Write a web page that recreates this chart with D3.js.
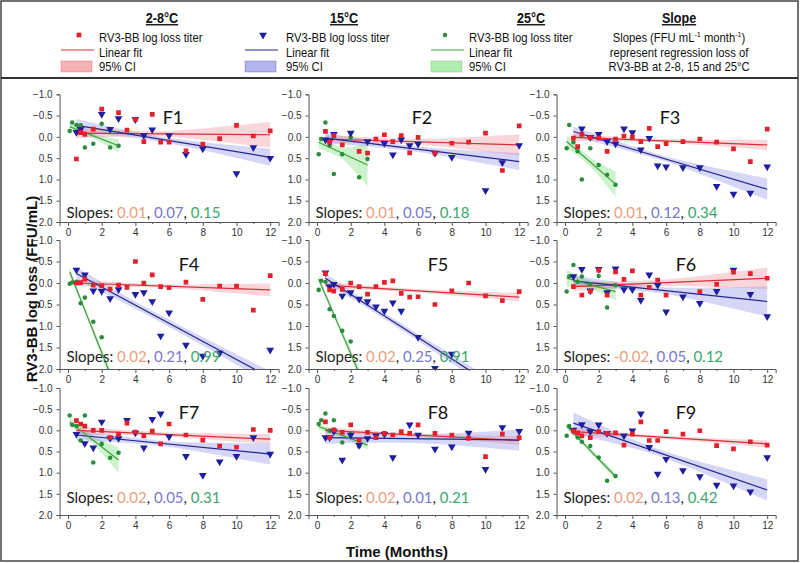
<!DOCTYPE html>
<html><head><meta charset="utf-8">
<script src="https://cdn.jsdelivr.net/npm/d3@7"></script>
<style>body{margin:0;background:#fff}svg{display:block}</style>
</head><body><svg id="c" width="800" height="563"></svg>
<script>
// ---------- DATA ----------
const months  = [0.5,0.75,1,1.5,2,2.5,3,3.5,4,4.5,5,5.5,6,7,8,9,10,11,12];
const monthsG = [0.1,0.25,0.5,0.75,1,1.5,2,2.5,3];
const panelNames = ["F1","F2","F3","F4","F5","F6","F7","F8","F9"];
const N = null;
// 2-8°C log loss (red squares)
const red = [
 [0.52,-0.1,-0.06,-0.18,-0.65,N,-0.57,-0.16,-0.41,0.11,-0.53,0.125,0.125,0.33,0.17,0.04,-0.27,-0.02,-0.14],
 [-0.13,0.125,-0.03,0.19,N,0.34,0.38,0.05,-0.05,0.11,-0.03,0.375,0.01,0.38,0.15,0.125,-0.09,0.79,-0.26],
 [0.03,0.23,-0.06,0.02,0.03,0.34,0.05,-0.02,0.0,0.11,-0.2,0.23,0.16,0.11,0.05,0.125,0.28,0.58,-0.18],
 [0.0,-0.01,-0.09,0.05,0.07,0.14,0.05,0.1,-0.5,0.0,-0.19,0.085,0.11,-0.02,0.38,0.07,0.07,0.63,-0.17],
 [-0.22,0.16,0.19,0.15,0.0,0.085,0.26,0.085,-0.015,-0.05,0.24,0.33,0.32,0.5,0.18,0.0,0.3,0.41,0.2],
 [0.085,N,0.28,0.19,-0.3,0.28,-0.26,-0.085,-0.28,0.28,0.1,-0.07,0.28,N,0.2,0.03,-0.25,-0.22,-0.11],
 [-0.23,-0.15,-0.1,0.0,0.0,0.17,0.09,-0.17,0.04,0.13,0.02,0.32,-0.15,0.11,0.23,0.37,0.4,-0.02,0.0],
 [-0.2,0.17,-0.01,0.05,-0.13,0.23,0.05,0.17,0.07,0.11,0.03,0.07,-0.13,0.07,0.11,0.19,0.62,0.09,0.17],
 [0.02,0.06,0.13,0.17,0.03,0.07,0.06,0.35,0.09,-0.2,0.24,0.24,0.03,0.09,0.01,0.36,0.44,0.27,0.35]
];
// 15°C log loss (blue triangles)
const blue = [
 [-0.11,-0.18,N,N,-0.53,-0.18,-0.43,N,-0.41,-0.03,-0.17,N,-0.03,0.41,0.28,N,0.86,0.25,0.5],
 [0.07,0.11,-0.06,N,-0.09,N,0.11,N,0.15,0.42,0.07,0.2,0.17,0.38,0.48,N,1.26,0.6,0.2],
 [N,N,-0.19,0.01,-0.06,0.11,0.16,-0.19,-0.1,0.3,0.03,0.68,0.7,0.72,0.72,1.16,1.34,1.32,0.7],
 [-0.3,N,-0.19,0.18,0.19,0.36,0.15,N,0.26,0.22,0.43,1.23,0.69,1.44,1.7,1.63,N,N,1.56],
 [-0.24,0.085,0.03,0.3,0.22,0.37,0.43,0.55,0.65,0.46,0.65,N,1.26,1.98,1.65,N,N,N,N],
 [-0.15,N,-0.32,0.18,-0.32,0.22,-0.33,0.15,0.15,0.4,-0.19,0.05,0.67,0.32,0.47,0.19,-0.3,0.26,0.78],
 [0.09,N,0.31,0.41,-0.2,0.19,0.19,-0.24,0.06,0.41,-0.26,-0.39,0.15,0.61,1.06,0.74,0.61,0.17,0.56],
 [0.17,0.17,0.03,0.7,0.11,0.35,0.19,0.13,0.09,0.64,N,-0.13,0.11,0.44,0.39,0.06,0.92,-0.07,0.02],
 [-0.01,N,-0.14,0.03,-0.13,0.07,N,0.13,0.01,-0.39,0.4,1.03,0.68,0.95,1.09,1.29,1.31,1.45,0.64]
];
// 25°C log loss (green dots)
const green = [
 [-0.14,-0.34,-0.28,-0.27,0.25,0.16,-0.31,0.25,0.21],
 [0.41,0.05,-0.34,0.2,0.87,0.41,0.01,0.95,0.52],
 [0.27,-0.28,0.125,0.34,1.0,0.27,0.66,0.89,1.125],
 [0.02,-0.01,-0.03,0.47,0.34,0.9,1.26,N,N],
 [0.16,-0.05,-0.03,0.61,0.77,1.11,1.36,N,N],
 [0.2,-0.15,-0.42,-0.03,-0.15,0.03,-0.16,0.57,0.05],
 [-0.35,-0.13,-0.1,0.24,-0.35,0.76,0.32,0.65,0.53],
 [-0.15,-0.24,-0.4,0.01,-0.24,0.29,0.09,0.38,N],
 [0.13,-0.1,N,0.17,0.27,0.37,0.64,1.19,1.08]
];
// linear fits: [xStart, yStart, xEnd, yEnd]
const fitRed = [[0.5,-0.09,12,-0.05],[0.5,0.05,12,0.19],[0.5,0.01,12,0.19],[0.5,0.0,12,0.16],[0.5,0.05,12,0.33],[0.5,0.085,12,-0.11],[0.5,0.0,12,0.21],[0.5,0.0,12,0.24],[0.5,0.03,12,0.32]];
const fitBlue = [[0.5,-0.27,12,0.48],[0.5,0.03,12,0.58],[0.5,-0.125,12,1.23],[0.5,-0.22,12,2.2],[0.5,-0.11,12,2.77],[0.5,-0.05,12,0.43],[0.5,0.11,12,0.56],[0.5,0.17,12,0.23],[0.5,-0.17,12,1.41]];
const fitGreen = [[0.1,-0.24,3,0.21],[0.1,0.125,3,0.66],[0.1,0.11,3,1.11],[0.1,-0.26,3,2.61],[0.1,-0.09,3,2.55],[0.1,-0.11,3,0.2],[0.1,-0.2,3,0.7],[0.1,-0.09,3,0.35],[0.1,-0.1,3,1.09]];
// 95% CI half widths: [start, narrowest, end]
const ciRed = [[0.12,0.06,0.3],[0.1,0.06,0.25],[0.08,0.04,0.12],[0.08,0.04,0.15],[0.08,0.04,0.1],[0.1,0.07,0.25],[0.1,0.05,0.12],[0.08,0.04,0.1],[0.1,0.04,0.08]];
const ciBlue = [[0.15,0.06,0.2],[0.12,0.06,0.2],[0.12,0.06,0.25],[0.15,0.08,0.15],[0.12,0.07,0.15],[0.12,0.07,0.35],[0.12,0.06,0.25],[0.15,0.1,0.25],[0.25,0.08,0.25]];
const ciGreen = [[0.1,0.06,0.15],[0.15,0.12,0.5],[0.15,0.1,0.3],[0.1,0.06,0.15],[0.1,0.06,0.15],[0.2,0.1,0.2],[0.1,0.1,0.3],[0.08,0.06,0.1],[0.06,0.05,0.08]];
// slope labels
const slopesRed   = ["0.01","0.01","0.01","0.02","0.02","-0.02","0.02","0.02","0.02"];
const slopesBlue  = ["0.07","0.05","0.12","0.21","0.25","0.05","0.05","0.01","0.13"];
const slopesGreen = ["0.15","0.18","0.34","0.99","0.91","0.12","0.31","0.21","0.42"];
const yTicks = [-1.0,-0.5,0.0,0.5,1.0,1.5,2.0];
const xTicks = [0,2,4,6,8,10,12];
const xMinor = [1,3,5,7,9,11];
const legendTitles = ["2-8°C","15°C","25°C","Slope"];
const legendItems = ["RV3-BB log loss titer","Linear fit","95% CI"];
const slopeNote2 = "represent regression loss of";
const slopeNote3 = "RV3-BB at 2-8, 15 and 25°C";
const yTitle = "RV3-BB log loss (FFU/mL)";
const xTitle = "Time (Months)";

// ---------- STYLE / LAYOUT ----------
const svg = d3.select("#c");
const colX0 = [68, 317, 565];
const rowTop = [94.3, 240, 388], rowBot = [222, 369, 515];
const slopeOff = [4, 7, 12];
const ppm = 16.85;
const S = [
 {name:"red", pt:"#E3202B", ln:"#D32F38", band:"rgba(235,120,130,0.30)", sym:"square", sl:"#E9A07E", lb:"#F6B3B6"},
 {name:"blue", pt:"#1E1E9E", ln:"#25258E", band:"rgba(120,120,225,0.30)", sym:"tri", sl:"#7878CF", lb:"#B4B4EE"},
 {name:"green", pt:"#2A8C3C", ln:"#3E9E3E", band:"rgba(110,220,110,0.35)", sym:"circle", sl:"#3BA56B", lb:"#B2EEB2"}
];
const seriesData = [red, blue, green];
const seriesFit = [fitRed, fitBlue, fitGreen];
const seriesCI = [ciRed, ciBlue, ciGreen];
const seriesT = [months, months, monthsG];

function marker(sel, sym, color){
  if(sym==="square") sel.append("path").attr("d", d3.symbol(d3.symbolSquare, 22)()).attr("fill", color);
  else if(sym==="tri") sel.append("path").attr("d", d3.symbol(d3.symbolTriangle, 26)()).attr("transform","rotate(180)").attr("fill", color);
  else sel.append("path").attr("d", d3.symbol(d3.symbolCircle, 16)()).attr("fill", color);
}

const defs = svg.append("defs");

panelNames.forEach((name, i) => {
  const r = Math.floor(i/3), c = i % 3;
  const x = d3.scaleLinear().domain([-0.5, 12.5]).range([colX0[c] - 0.5*ppm, colX0[c] + 12.5*ppm]);
  const y = d3.scaleLinear().domain([-1, 2]).range([rowTop[r], rowBot[r]]);
  const g = svg.append("g");
  defs.append("clipPath").attr("id","clip"+i).append("rect")
    .attr("x", x.range()[0]).attr("y", y.range()[0])
    .attr("width", x.range()[1]-x.range()[0]).attr("height", y.range()[1]-y.range()[0]);
  const plot = g.append("g").attr("clip-path", `url(#clip${i})`);

  // bands
  [2,1,0].forEach(s => {
    const [x0,y0,x1,y1] = seriesFit[s][i];
    const [hs,hm,he] = seriesCI[s][i];
    const tv = seriesT[s].filter((t,k) => seriesData[s][i][k] !== null);
    const xm = d3.mean(tv);
    const lineY = xx => y0 + (y1-y0)*(xx-x0)/(x1-x0);
    const hw = xx => xx < xm
      ? Math.sqrt(hm*hm + (hs*hs-hm*hm)*Math.pow((xx-xm)/(x0-xm),2))
      : Math.sqrt(hm*hm + (he*he-hm*hm)*Math.pow((xx-xm)/(x1-xm),2));
    const xs = d3.range(0, 61).map(k => x0 + (x1-x0)*k/60);
    plot.append("path").datum(xs)
      .attr("d", d3.area().x(d=>x(d)).y0(d=>y(lineY(d)-hw(d))).y1(d=>y(lineY(d)+hw(d))))
      .attr("fill", S[s].band);
  });
  // fit lines
  [0,1,2].forEach(s => {
    const [x0,y0,x1,y1] = seriesFit[s][i];
    plot.append("line").attr("x1",x(x0)).attr("y1",y(y0)).attr("x2",x(x1)).attr("y2",y(y1))
      .attr("stroke", S[s].ln).attr("stroke-width",1.2);
  });
  // points
  [2,1,0].forEach(s => {
    seriesData[s][i].forEach((v,k) => {
      if (v === null) return;
      const t = seriesT[s][k];
      const m = plot.append("g").attr("transform",`translate(${x(t)},${y(v)})`);
      marker(m, S[s].sym, S[s].pt);
    });
  });

  // axes
  g.append("g").attr("transform",`translate(${x.range()[0]},0)`)
    .call(d3.axisLeft(y).tickValues(yTicks).tickFormat(d3.format(".1f")).tickSize(3).tickPadding(4));
  g.append("g").attr("transform",`translate(0,${y.range()[1]})`)
    .call(d3.axisBottom(x).tickValues(xTicks).tickSize(4).tickPadding(3));
  g.append("g").attr("transform",`translate(0,${y.range()[1]})`)
    .call(d3.axisBottom(x).tickValues(xMinor).tickSize(2).tickFormat(""))
    .select(".domain").remove();
  g.selectAll(".domain, .tick line").attr("stroke","#555");
  g.selectAll(".tick text").attr("fill","#333").style("font-family","'Liberation Sans', Arial, sans-serif").style("font-size","10px");

  // panel label
  const lx = r === 0 ? colX0[c] + 105 : colX0[c] + 121;
  const ly = r === 0 ? rowTop[r] + 23 : rowTop[r] + 24;
  g.append("text").attr("x", lx).attr("y", ly).attr("text-anchor","middle").attr("dominant-baseline","central")
    .style("font-family","Lato, 'Open Sans', sans-serif").style("font-size","18px").attr("fill","#111").text(name);

  // slopes
  const st = g.append("text").attr("x", x.range()[0] + 7).attr("y", rowBot[r] - slopeOff[r])
    .style("font-family","Lato, 'Open Sans', sans-serif").style("font-size","15px");
  st.append("tspan").attr("fill","#222").text("Slopes: ");
  st.append("tspan").attr("fill",S[0].sl).text(slopesRed[i]);
  st.append("tspan").attr("fill","#222").text(", ");
  st.append("tspan").attr("fill",S[1].sl).text(slopesBlue[i]);
  st.append("tspan").attr("fill","#222").text(", ");
  st.append("tspan").attr("fill",S[2].sl).text(slopesGreen[i]);
});

// titles
svg.append("text").attr("transform","translate(37,289) rotate(-90)").attr("text-anchor","middle")
  .style("font-family","'Liberation Sans', Arial, sans-serif").style("font-weight","bold").style("font-size","15px")
  .attr("fill","#111").text(yTitle);
svg.append("text").attr("x",397).attr("y",557).attr("text-anchor","middle")
  .style("font-family","'Liberation Sans', Arial, sans-serif").style("font-weight","bold").style("font-size","15px")
  .attr("fill","#111").text(xTitle);

// legend (condensed Arial look via horizontal scale)
const lf = "'Liberation Sans', Arial, sans-serif";
const SX = 0.9;
function ltext(x, y, anchor, size, bold){
  return svg.append("text").attr("transform",`translate(${x},${y}) scale(${SX},1)`).attr("text-anchor",anchor)
    .style("font-family", lf).style("font-size", size+"px").style("font-weight", bold ? "bold" : "normal").attr("fill","#111");
}
const titleX = [162, 344, 531, 679];
legendTitles.forEach((t,k) => {
  ltext(titleX[k], 23, "middle", 14, true).style("text-decoration","underline").text(t);
});
const legX = [61, 245, 431];
const legMarkX = [79, 263, 445];
const legTextX = [99, 286, 469];
const rowY = [41.5, 56.5, 71];
S.forEach((s,k) => {
  const m = svg.append("g").attr("transform",`translate(${legMarkX[k]},35)`);
  marker(m, s.sym, s.pt);
  svg.append("line").attr("x1",legX[k]).attr("x2",legX[k]+33).attr("y1",50).attr("y2",50).attr("stroke",s.ln).attr("stroke-width",1.2);
  svg.append("rect").attr("x",legX[k]).attr("y",61).attr("width",31).attr("height",11)
    .attr("fill", s.lb).attr("stroke", s.ln).attr("stroke-opacity",0.35).attr("stroke-width",0.8);
  legendItems.forEach((txt,j) => {
    ltext(legTextX[k], rowY[j], "start", 12.5, false).text(txt);
  });
});
const n1 = ltext(679, rowY[0], "middle", 12.5, false);
n1.append("tspan").text("Slopes (FFU mL");
n1.append("tspan").attr("baseline-shift","super").style("font-size","8px").text("-1");
n1.append("tspan").text(" month");
n1.append("tspan").attr("baseline-shift","super").style("font-size","8px").text("-1");
n1.append("tspan").text(")");
ltext(679, rowY[1], "middle", 12.5, false).text(slopeNote2);
ltext(679, rowY[2], "middle", 12.5, false).text(slopeNote3);

// frame
svg.append("rect").attr("x",1).attr("y",1).attr("width",797).attr("height",560)
  .attr("fill","none").attr("stroke","#444").attr("stroke-width",1.5);
svg.append("line").attr("x1",1).attr("x2",798).attr("y1",78).attr("y2",78).attr("stroke","#333").attr("stroke-width",2);
</script></body></html>
